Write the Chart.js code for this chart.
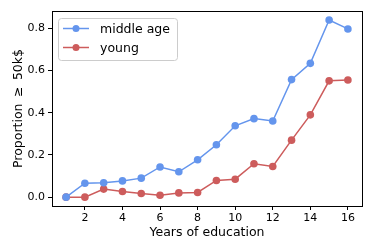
<!DOCTYPE html>
<html>
<head>
<meta charset="utf-8">
<script src="https://cdn.jsdelivr.net/npm/chart.js@4"></script>
<style>
  html, body { margin: 0; padding: 0; background: #fff; }
  #wrap { width: 374px; height: 249px; }
</style>
</head>
<body>
<div id="wrap"><canvas id="eduChart" width="374" height="249"></canvas></div>
<script>
// values
const years = [1, 2, 3, 4, 5, 6, 7, 8, 9, 10, 11, 12, 13, 14, 15, 16];
const middleAge = [0.0, 0.066, 0.068, 0.077, 0.090, 0.143, 0.120, 0.177, 0.248, 0.338, 0.372, 0.361, 0.557, 0.634, 0.839, 0.797];
const young = [0.0, 0.0, 0.038, 0.027, 0.017, 0.009, 0.020, 0.022, 0.079, 0.085, 0.158, 0.145, 0.270, 0.390, 0.551, 0.555];
const xTicks = [2, 4, 6, 8, 10, 12, 14, 16];
const yTicks = [0.0, 0.2, 0.4, 0.6, 0.8];
const seriesNames = ["middle age", "young"];
const BLUE = "#6495ED";
const RED = "#CD5C5C";
const FONT = "'DejaVu Sans', sans-serif";

const toPoints = (vals) => years.map((x, i) => ({ x: x, y: vals[i] }));

// box around the plot + legend inside the axes, matplotlib style
const framePlugin = {
  id: "frame",
  afterDraw(chart) {
    const { ctx, chartArea: a } = chart;
    ctx.save();
    ctx.strokeStyle = "#000";
    ctx.lineWidth = 1;
    ctx.strokeRect(Math.round(a.left) + 0.5, Math.round(a.top) + 0.5,
      Math.round(a.right - a.left), Math.round(a.bottom - a.top));

    // legend
    const bx = 58.5, by = 18.5, bw = 119, bh = 42, r = 3;
    ctx.beginPath();
    ctx.moveTo(bx + r, by);
    ctx.arcTo(bx + bw, by, bx + bw, by + bh, r);
    ctx.arcTo(bx + bw, by + bh, bx, by + bh, r);
    ctx.arcTo(bx, by + bh, bx, by, r);
    ctx.arcTo(bx, by, bx + bw, by, r);
    ctx.closePath();
    ctx.fillStyle = "rgba(255,255,255,0.8)";
    ctx.fill();
    ctx.strokeStyle = "#cccccc";
    ctx.stroke();

    const colors = [BLUE, RED];
    const rows = [28.5, 47.5];
    ctx.font = "12.5px " + FONT;
    ctx.textBaseline = "middle";
    seriesNames.forEach((name, i) => {
      const y = rows[i];
      ctx.strokeStyle = colors[i];
      ctx.fillStyle = colors[i];
      ctx.lineWidth = 1.5;
      ctx.beginPath();
      ctx.moveTo(63, y);
      ctx.lineTo(89, y);
      ctx.stroke();
      ctx.beginPath();
      ctx.arc(76, y, 3.5, 0, Math.PI * 2);
      ctx.fill();
      ctx.fillStyle = "#000";
      ctx.fillText(name, 100, y + 1);
    });
    ctx.restore();
  }
};

new Chart(document.getElementById("eduChart").getContext("2d"), {
  type: "line",
  data: {
    datasets: [
      {
        label: seriesNames[0],
        data: toPoints(middleAge),
        borderColor: BLUE,
        backgroundColor: BLUE,
        borderWidth: 1.5,
        pointRadius: 3.8,
        pointBorderWidth: 0,
        tension: 0,
      },
      {
        label: seriesNames[1],
        data: toPoints(young),
        borderColor: RED,
        backgroundColor: RED,
        borderWidth: 1.5,
        pointRadius: 3.8,
        pointBorderWidth: 0,
        tension: 0,
      },
    ],
  },
  options: {
    responsive: false,
    animation: false,
    events: [],
    layout: { padding: { left: 7, right: 12, top: 11, bottom: 0 } },
    plugins: { legend: { display: false }, tooltip: { enabled: false } },
    scales: {
      x: {
        type: "linear",
        min: 0.25,
        max: 16.75,
        afterBuildTicks: (scale) => { scale.ticks = xTicks.map((v) => ({ value: v })); },
        afterFit: (scale) => { scale.height = 43; },
        grid: { drawOnChartArea: false, drawTicks: true, tickLength: 4, color: "#000" },
        border: { display: true, color: "#000" },
        ticks: { color: "#000", font: { family: FONT, size: 11 }, padding: 2, maxRotation: 0 },
        title: { display: true, text: "Years of education", color: "#000", font: { family: FONT, size: 12.5 }, padding: { top: 1, bottom: 9 } },
      },
      y: {
        type: "linear",
        min: -0.042,
        max: 0.882,
        afterBuildTicks: (scale) => { scale.ticks = yTicks.map((v) => ({ value: v })); },
        afterFit: (scale) => { scale.width = 45; },
        grid: { drawOnChartArea: false, drawTicks: true, tickLength: 4, color: "#000" },
        border: { display: true, color: "#000" },
        ticks: { color: "#000", font: { family: FONT, size: 11 }, padding: 3, callback: (v) => v.toFixed(1) },
        title: { display: true, text: "Proportion \u2009≥\u2009 50k$", color: "#000", font: { family: FONT, size: 12.5 } },
      },
    },
  },
  plugins: [framePlugin],
});
</script>
</body>
</html>
